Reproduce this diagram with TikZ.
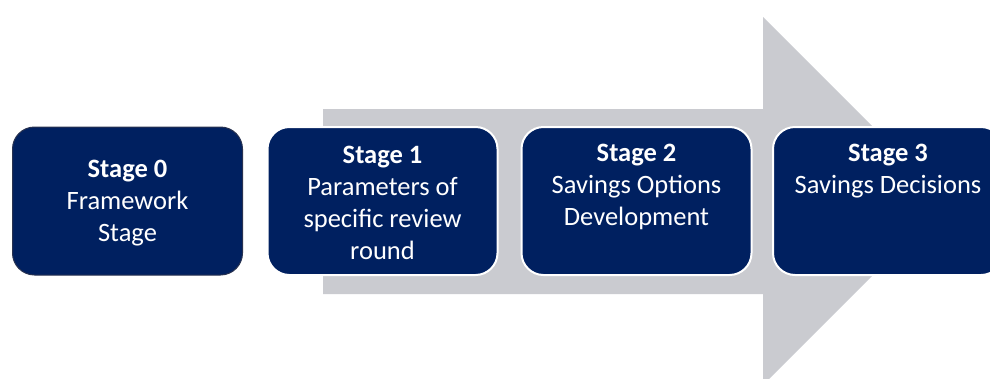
\documentclass[tikz,border=0pt]{standalone}
\usepackage{fontspec}
\setmainfont{Carlito}
\definecolor{navy}{RGB}{0,32,96}
\definecolor{navyedge}{RGB}{40,50,80}
\definecolor{arrowgrey}{RGB}{202,203,208}
\tikzset{
  stagebox/.style={draw=white, line width=2pt, fill=navy, rounded corners=22pt,
    minimum width=230pt, minimum height=148pt, inner sep=0pt, outer sep=0pt},
  stagetext/.style={text=white, align=center, font=\fontsize{26.5}{32}\selectfont, inner sep=0pt}
}
\begin{document}
\begin{tikzpicture}[x=1pt,y=-1pt]
\useasboundingbox (0,0) rectangle (990,378);
\begin{scope}
\clip (0,0) rectangle (990,378);
\fill[arrowgrey] (323,109) -- (763,109) -- (763,17) -- (947,201) -- (763,385) -- (763,294) -- (323,294) -- cycle;
\node[stagebox, draw=navyedge, line width=1pt] (s0) at (127.5,201) {};
\node[stagebox] (s1) at (382.5,201) {};
\node[stagebox] (s2) at (636.5,201) {};
\node[stagebox] (s3) at (888,201) {};
\end{scope}
\node[stagetext] (t0) at (127.5,203) {\textbf{Stage 0}\\Framework\\Stage};
\node[stagetext] (t1) at (382.5,203) {\textbf{Stage 1}\\Parameters of\\specific review\\round};
\node[stagetext] (t2) at (636.5,187) {\textbf{Stage 2}\\Savings Options\\Development};
\node[stagetext] (t3) at (888,171) {\textbf{Stage 3}\\Savings Decisions};
\end{tikzpicture}
\end{document}
